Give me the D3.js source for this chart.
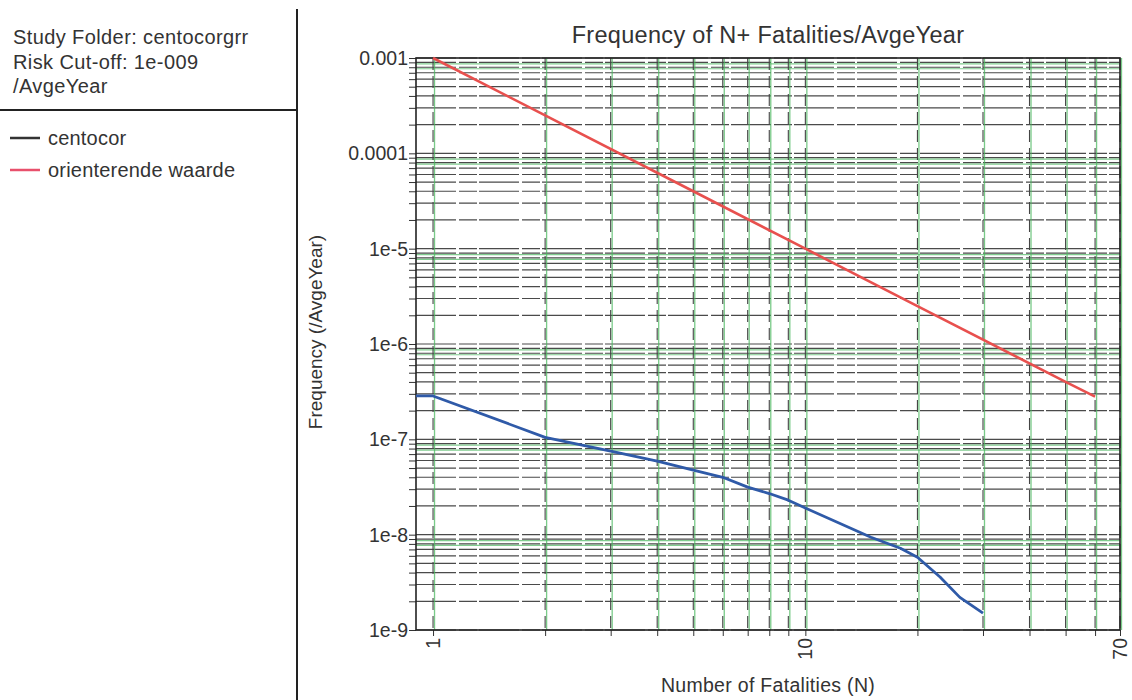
<!DOCTYPE html>
<html>
<head>
<meta charset="utf-8">
<script src="https://cdn.jsdelivr.net/npm/d3@7"></script>
<style>
  body { margin: 0; background: #fff; }
  svg text { font-family: Arial, "Liberation Sans", sans-serif; fill: #333; }
</style>
</head>
<body>
<div id="chart"></div>
<script>
// values
const centocorN = [0.9, 1, 2, 3, 4, 5, 6, 7, 8, 9, 10, 15, 18, 20, 23, 26, 30];
const centocorF = [2.85e-7, 2.85e-7, 1.05e-7, 7.5e-8, 5.9e-8, 4.75e-8, 4.0e-8, 3.15e-8, 2.7e-8, 2.3e-8, 1.9e-8, 9.4e-9, 7.2e-9, 5.8e-9, 3.6e-9, 2.2e-9, 1.5e-9];

const orientN = [1, 2, 5, 10, 20, 50, 60];
const orientF = [1e-3, 2.5e-4, 4e-5, 1e-5, 2.5e-6, 4e-7, 2.8e-7];

const xTickLabels = [1, 10, 70];
const yTickLabels = ['1e-9', '1e-8', '1e-7', '1e-6', '1e-5', '0.0001', '0.001'];
const yTickValues = [1e-9, 1e-8, 1e-7, 1e-6, 1e-5, 1e-4, 1e-3];

const infoLines = ['Study Folder: centocorgrr', 'Risk Cut-off: 1e-009', '/AvgeYear'];
const legendItems = [
    {name: 'centocor', color: '#333'},
    {name: 'orienterende waarde', color: '#e8506c'}
];

const width = 1132, height = 700;
const plot = {left: 416, right: 1120, top: 58, bottom: 630};

const x = d3.scaleLog([0.9, 70], [plot.left, plot.right]);
const y = d3.scaleLog([1e-9, 1e-3], [plot.bottom, plot.top]);

// minor grid positions
const xGrid = [];
for (let e = 0; e <= 1; e++) {
    for (let k = 1; k <= 9; k++) {
        const v = k * Math.pow(10, e);
        if (v <= 70) xGrid.push(v);
    }
}
const yGrid = [];
for (let e = -9; e <= -4; e++) {
    for (let k = 1; k <= 9; k++) yGrid.push({v: k * Math.pow(10, e), k: k});
}
yGrid.push({v: 1e-3, k: 1});

const svg = d3.select('#chart')
    .append('svg')
    .attr('width', width)
    .attr('height', height);

// left info panel
svg.append('line')
    .attr('x1', 297).attr('x2', 297)
    .attr('y1', 9).attr('y2', height)
    .attr('stroke', '#222').attr('stroke-width', 2);

svg.append('line')
    .attr('x1', 0).attr('x2', 297)
    .attr('y1', 110).attr('y2', 110)
    .attr('stroke', '#222').attr('stroke-width', 2);

svg.selectAll('.info')
    .data(infoLines)
    .enter()
    .append('text')
    .attr('class', 'info')
    .attr('x', 13)
    .attr('y', (d, i) => 44 + i * 24.5)
    .style('font-size', '20px')
    .style('letter-spacing', '0.4px')
    .text(d => d);

const legend = svg.selectAll('.legend')
    .data(legendItems)
    .enter()
    .append('g')
    .attr('class', 'legend')
    .attr('transform', (d, i) => `translate(0,${138 + i * 32})`);

legend.append('line')
    .attr('x1', 10).attr('x2', 40)
    .attr('stroke', d => d.color)
    .attr('stroke-width', 2.5);

legend.append('text')
    .attr('x', 48)
    .attr('y', 7)
    .style('font-size', '20px')
    .style('letter-spacing', '0.2px')
    .text(d => d.name);

// grid
const grid = svg.append('g');

grid.selectAll('.hgrid')
    .data(yGrid)
    .enter()
    .append('line')
    .attr('class', 'hgrid')
    .attr('x1', plot.left).attr('x2', plot.right)
    .attr('y1', d => y(d.v)).attr('y2', d => y(d.v))
    .attr('stroke', '#4a4a4a')
    .attr('stroke-width', 1.2)
    .attr('stroke-dasharray', '40,3,18,2');

grid.selectAll('.hgreen')
    .data(yGrid.filter(d => d.k >= 8))
    .enter()
    .append('line')
    .attr('class', 'hgreen')
    .attr('x1', plot.left).attr('x2', plot.right)
    .attr('y1', d => y(d.v) + 1.5).attr('y2', d => y(d.v) + 1.5)
    .attr('stroke', '#4cb860')
    .attr('stroke-opacity', 0.7)
    .attr('stroke-width', 1.2);

grid.selectAll('.vgreen')
    .data(xGrid)
    .enter()
    .append('line')
    .attr('class', 'vgreen')
    .attr('x1', d => x(d) + 1.5).attr('x2', d => x(d) + 1.5)
    .attr('y1', plot.top).attr('y2', plot.bottom)
    .attr('stroke', '#4cb860')
    .attr('stroke-opacity', 0.75)
    .attr('stroke-width', 1.3);

grid.selectAll('.vgrid')
    .data(xGrid)
    .enter()
    .append('line')
    .attr('class', 'vgrid')
    .attr('x1', d => x(d)).attr('x2', d => x(d))
    .attr('y1', plot.top).attr('y2', plot.bottom)
    .attr('stroke', '#444')
    .attr('stroke-width', 1.1)
    .attr('stroke-dasharray', '12,6');

// axes
const yAxis = d3.axisLeft(y)
    .tickValues(yGrid.map(d => d.v))
    .tickSize(7)
    .tickFormat('');

svg.append('g')
    .attr('transform', `translate(${plot.left},0)`)
    .call(yAxis)
    .call(g => g.select('.domain').remove())
    .call(g => g.selectAll('line').attr('stroke', '#333'));

svg.selectAll('.ylabel')
    .data(yTickValues)
    .enter()
    .append('text')
    .attr('class', 'ylabel')
    .attr('x', plot.left - 8)
    .attr('y', d => y(d) + 7)
    .attr('text-anchor', 'end')
    .style('font-size', '19.5px')
    .text((d, i) => yTickLabels[i]);

const xAxis = d3.axisBottom(x)
    .tickValues(xGrid)
    .tickSize(6)
    .tickFormat('');

svg.append('g')
    .attr('transform', `translate(0,${plot.bottom})`)
    .call(xAxis)
    .call(g => g.select('.domain').remove())
    .call(g => g.selectAll('line').attr('stroke', '#333'));

svg.selectAll('.xlabel')
    .data(xTickLabels)
    .enter()
    .append('text')
    .attr('class', 'xlabel')
    .attr('transform', d => `translate(${x(d) + 7},${plot.bottom + 8}) rotate(-90)`)
    .attr('text-anchor', 'end')
    .style('font-size', '19.5px')
    .text(d => d);

svg.append('rect')
    .attr('x', plot.left).attr('y', plot.top)
    .attr('width', plot.right - plot.left)
    .attr('height', plot.bottom - plot.top)
    .attr('fill', 'none')
    .attr('stroke', '#222')
    .attr('stroke-width', 1.6);

// series
const line = d3.line()
    .x(d => x(d[0]))
    .y(d => y(d[1]));

svg.append('path')
    .datum(orientN.map((n, i) => [n, orientF[i]]))
    .attr('d', line)
    .attr('fill', 'none')
    .attr('stroke', '#e8504e')
    .attr('stroke-width', 2.6);

svg.append('path')
    .datum(centocorN.map((n, i) => [n, centocorF[i]]))
    .attr('d', line)
    .attr('fill', 'none')
    .attr('stroke', '#2f5aa8')
    .attr('stroke-width', 2.8)
    .attr('stroke-linejoin', 'round');

// titles
svg.append('text')
    .attr('x', (plot.left + plot.right) / 2)
    .attr('y', 43)
    .attr('text-anchor', 'middle')
    .style('font-size', '23.5px')
    .style('letter-spacing', '0.3px')
    .text('Frequency of N+ Fatalities/AvgeYear');

svg.append('text')
    .attr('x', (plot.left + plot.right) / 2)
    .attr('y', 692)
    .attr('text-anchor', 'middle')
    .style('font-size', '19.5px')
    .style('letter-spacing', '0.3px')
    .text('Number of Fatalities (N)');

svg.append('text')
    .attr('transform', `translate(322,332) rotate(-90)`)
    .attr('text-anchor', 'middle')
    .style('font-size', '19px')
    .text('Frequency (/AvgeYear)');
</script>
</body>
</html>
